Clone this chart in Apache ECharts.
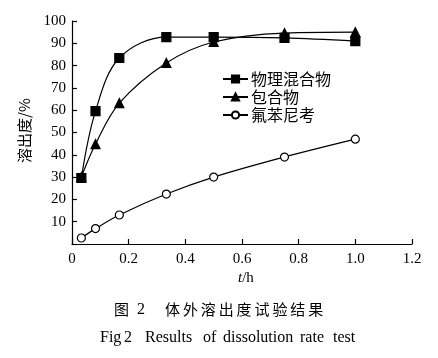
<!DOCTYPE html>
<html><head><meta charset="utf-8">
<script src="https://cdn.jsdelivr.net/npm/echarts@6/dist/echarts.min.js"></script>
<style>html,body{margin:0;padding:0;background:#fff}#c{width:438px;height:358px}</style>
</head><body><div id="c"></div>
<script>
const times = [0.033, 0.083, 0.167, 0.333, 0.5, 0.75, 1.0];
const seriesNames = ['物理混合物', '包合物', '氟苯尼考'];
const physicalMix = [29.6, 59.6, 83.4, 92.8, 92.8, 92.4, 91.0];
const inclusion = [30.0, 44.8, 63.2, 81.2, 90.6, 94.6, 95.0];
const florfenicol = [2.7, 6.9, 13.0, 22.4, 30.0, 39.0, 47.0];
const xTicks = ['0', '0.2', '0.4', '0.6', '0.8', '1.0', '1.2'];
const yTicks = ['', '10', '20', '30', '40', '50', '60', '70', '80', '90', '100'];
const yName = '溶出度/%';
const captionCnHead = ['图', '2'];
const captionCnBody = '体外溶出度试验结果';
const captionEnWords = ['Fig', '2', 'Results', 'of', 'dissolution', 'rate', 'test'];
const captionEnLeft = [100, 124, 145, 203, 223, 300, 333];

const serif = '"Liberation Serif","DejaVu Serif",serif';
const cjk = '"Noto Sans CJK SC","Liberation Serif",serif';
function pairs(v){ return times.map((t,i)=>[t,v[i]]); }

const graphics = [
  {type:'text',x:17,y:163,rotation:Math.PI/2,style:{text:yName,fontFamily:cjk,fontSize:15,fill:'#000',verticalAlign:'top'}},
  {type:'text',left:238,top:271,style:{rich:{i:{fontFamily:serif,fontStyle:'italic',fontSize:15},n:{fontFamily:serif,fontSize:15}},text:'{i|t}{n|/h}',fill:'#000'}},
  {type:'text',left:114,top:302,style:{text:captionCnHead[0],fontFamily:cjk,fontSize:15,fill:'#000'}},
  {type:'text',left:137,top:302,style:{text:captionCnHead[1],fontFamily:serif,fontSize:16,fill:'#000'}}
];
for (let i = 0; i < captionCnBody.length; i++) {
  graphics.push({type:'text',left:165 + i*17.9,top:302,style:{text:captionCnBody[i],fontFamily:cjk,fontSize:15,fill:'#000'}});
}
for (let i = 0; i < captionEnWords.length; i++) {
  graphics.push({type:'text',left:captionEnLeft[i],top:330,style:{text:captionEnWords[i],fontFamily:serif,fontSize:16,fill:'#000'}});
}

const chart = echarts.init(document.getElementById('c'));
const common = {type:'line', smooth:0.35, lineStyle:{color:'#000',width:1.2}, itemStyle:{color:'#000',borderColor:'#000',borderWidth:1.2}};
chart.setOption({
  animation:false,
  backgroundColor:'#fff',
  grid:{left:72,right:26,top:21,bottom:114},
  xAxis:{type:'value',min:0,max:1.2,interval:0.2,
    axisLine:{lineStyle:{color:'#000',width:1.2}},
    axisTick:{inside:true,length:5,lineStyle:{color:'#000',width:1.2}},
    splitLine:{show:false},
    axisLabel:{color:'#000',fontFamily:serif,fontSize:15,margin:8,formatter:(v)=>xTicks[Math.round(v/0.2)]}
  },
  yAxis:{type:'value',min:0,max:100,interval:10,
    axisLine:{show:true,lineStyle:{color:'#000',width:1.2}},
    axisTick:{show:true,inside:true,length:5,lineStyle:{color:'#000',width:1.2}},
    splitLine:{show:false},
    axisLabel:{color:'#000',fontFamily:serif,fontSize:15,margin:6,formatter:(v)=>yTicks[Math.round(v/10)]}
  },
  legend:{orient:'vertical',left:217,top:66,itemGap:2,itemWidth:25,itemHeight:9,padding:[5,5,5,5],
    textStyle:{color:'#000',fontFamily:cjk,fontSize:16,padding:[0,0,0,-2]},
    data:seriesNames},
  graphic:graphics,
  series:[
    Object.assign({},common,{name:seriesNames[0],data:pairs(physicalMix),symbol:'rect',symbolSize:9}),
    Object.assign({},common,{name:seriesNames[1],data:pairs(inclusion),symbol:'triangle',symbolSize:9}),
    Object.assign({},common,{name:seriesNames[2],data:pairs(florfenicol),symbol:'circle',symbolSize:8,itemStyle:{color:'#fff',borderColor:'#000',borderWidth:1.2}})
  ]
});
</script></body></html>
